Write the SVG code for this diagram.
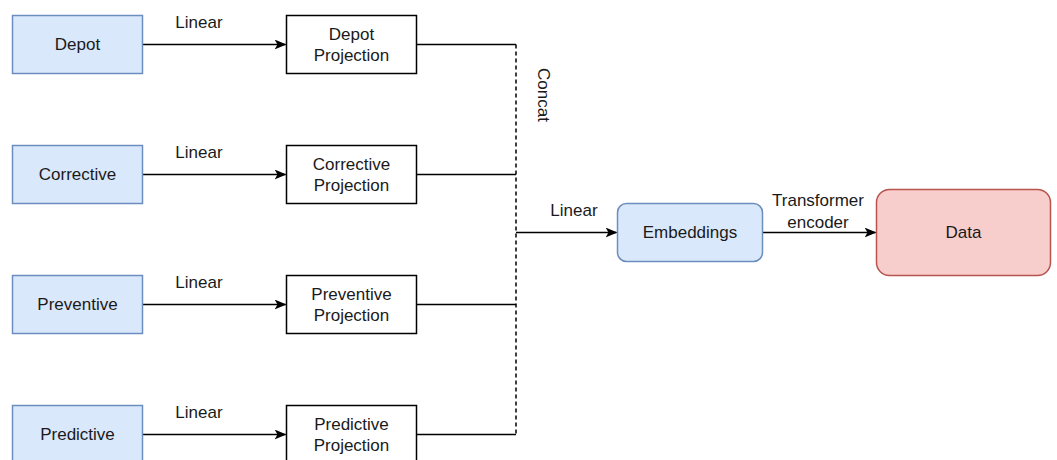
<svg xmlns="http://www.w3.org/2000/svg" width="1057" height="460" viewBox="0 0 1057 460">
<style>
text{font-family:"Liberation Sans",Arial,sans-serif;font-size:17px;fill:#1a1a1a;text-anchor:middle}
.in{fill:#dae8fc;stroke:#6c8ebf;stroke-width:1.5}
.proj{fill:#ffffff;stroke:#000000;stroke-width:1.5}
.emb{fill:#dae8fc;stroke:#6c8ebf;stroke-width:1.5}
.data{fill:#f8cecc;stroke:#b85450;stroke-width:1.5}
.ln{stroke:#000;stroke-width:1.5;fill:none}
.dash{stroke:#000;stroke-width:1.5;fill:none;stroke-dasharray:4 3}
</style>
<defs>
<marker id="arr" viewBox="0 0 12 10" refX="11" refY="5" markerWidth="12" markerHeight="10" markerUnits="userSpaceOnUse" orient="auto">
<path d="M0,0 L12,5 L0,10 L3,5 Z" fill="#000"/>
</marker>
</defs>
<rect width="1057" height="460" fill="#fff"/>
<g id="connectors">
<path class="ln" d="M142.5,44.5 H285.5" marker-end="url(#arr)"/>
<path class="ln" d="M142.5,174.5 H285.5" marker-end="url(#arr)"/>
<path class="ln" d="M142.5,304.5 H285.5" marker-end="url(#arr)"/>
<path class="ln" d="M142.5,434.5 H285.5" marker-end="url(#arr)"/>
<path class="ln" d="M416.5,44.5 H516"/>
<path class="ln" d="M416.5,174.5 H516"/>
<path class="ln" d="M416.5,304.5 H516"/>
<path class="ln" d="M416.5,434.5 H516"/>
<path class="dash" d="M516,44.5 V434.5"/>
<path class="ln" d="M516,232.5 H616.5" marker-end="url(#arr)"/>
<path class="ln" d="M762.5,232.5 H875.5" marker-end="url(#arr)"/>
<text x="199" y="28">Linear</text>
<text x="199" y="158">Linear</text>
<text x="199" y="288">Linear</text>
<text x="199" y="418">Linear</text>
<text x="574" y="216">Linear</text>
<text x="818" y="206">Transformer</text>
<text x="818" y="228">encoder</text>
<text transform="translate(538,95) rotate(90)">Concat</text>
</g>
<g id="depot"><rect class="in" x="12.5" y="15.5" width="130" height="58"/><text x="77.5" y="50">Depot</text></g>
<g id="corrective"><rect class="in" x="12.5" y="145.5" width="130" height="58"/><text x="77.5" y="180">Corrective</text></g>
<g id="preventive"><rect class="in" x="12.5" y="275.5" width="130" height="58"/><text x="77.5" y="310">Preventive</text></g>
<g id="predictive"><rect class="in" x="12.5" y="405.5" width="130" height="58"/><text x="77.5" y="440">Predictive</text></g>
<g id="depot-proj"><rect class="proj" x="286.5" y="15.5" width="130" height="58"/><text x="351.5" y="40">Depot</text><text x="351.5" y="61">Projection</text></g>
<g id="corrective-proj"><rect class="proj" x="286.5" y="145.5" width="130" height="58"/><text x="351.5" y="170">Corrective</text><text x="351.5" y="191">Projection</text></g>
<g id="preventive-proj"><rect class="proj" x="286.5" y="275.5" width="130" height="58"/><text x="351.5" y="300">Preventive</text><text x="351.5" y="321">Projection</text></g>
<g id="predictive-proj"><rect class="proj" x="286.5" y="405.5" width="130" height="58"/><text x="351.5" y="430">Predictive</text><text x="351.5" y="451">Projection</text></g>
<g id="embeddings"><rect class="emb" x="617.5" y="203.5" width="145" height="58" rx="9"/><text x="690" y="237.5">Embeddings</text></g>
<g id="data"><rect class="data" x="876.5" y="189.5" width="174" height="86" rx="13"/><text x="963.5" y="237.5">Data</text></g>
</svg>
